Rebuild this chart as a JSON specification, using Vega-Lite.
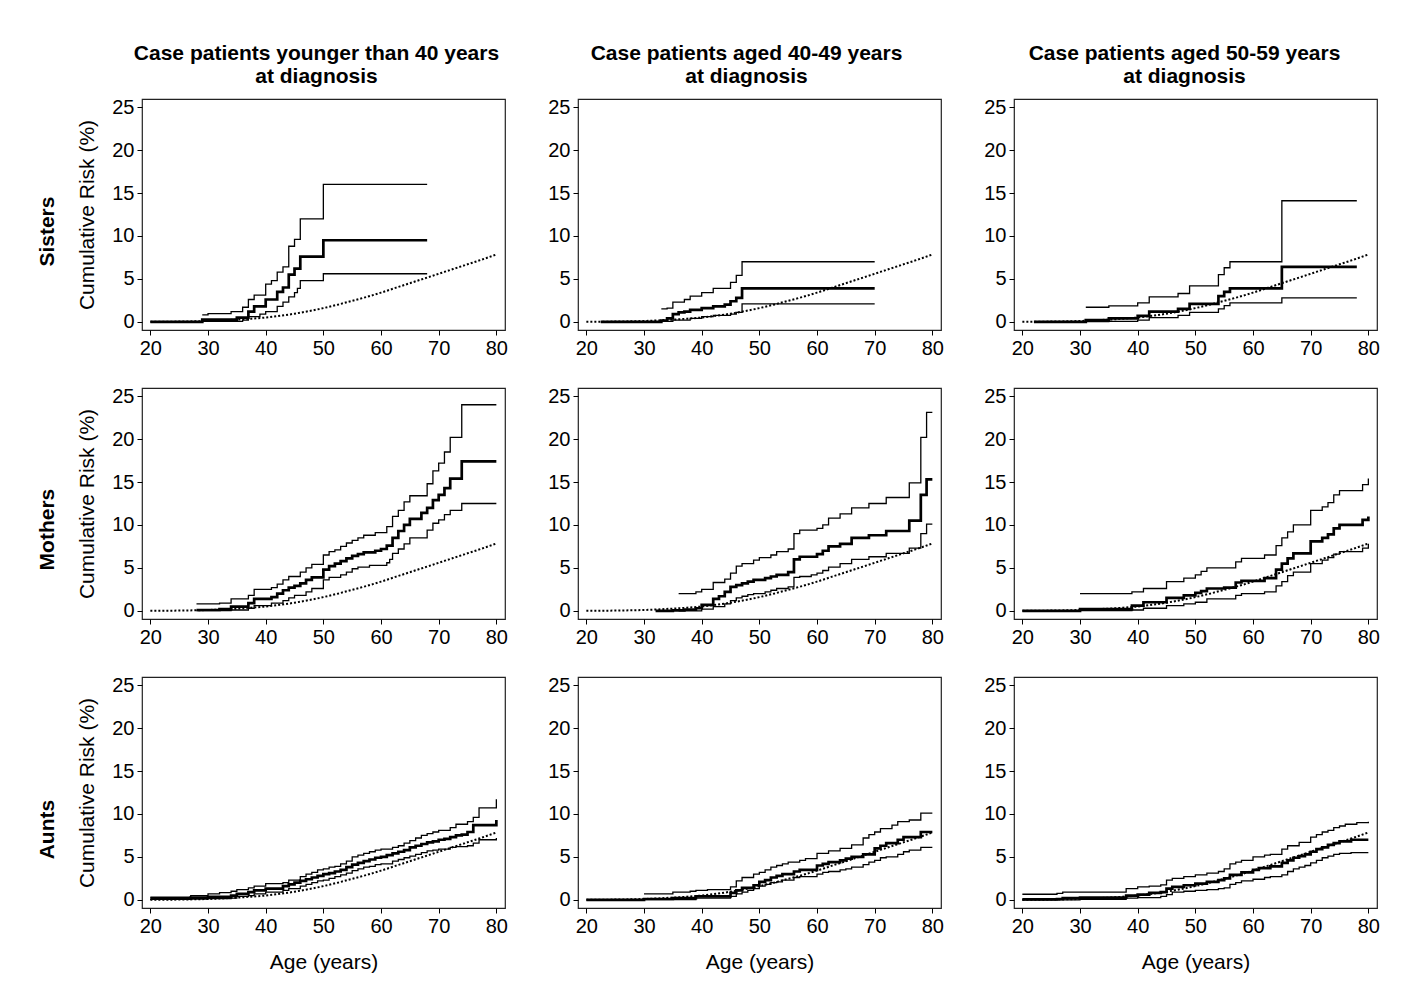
{
"$schema": "https://vega.github.io/schema/vega-lite/v6.json",
"padding": {"left": 37, "top": 42, "right": 5, "bottom": 5},
"background": "white",
"datasets": {
"pop": [{"x":20,"y":0},{"x":22.5,"y":0.01},{"x":25,"y":0.03},{"x":27.5,"y":0.06},{"x":30,"y":0.1},{"x":32.5,"y":0.17},{"x":35,"y":0.26},{"x":37.5,"y":0.37},{"x":40,"y":0.5},{"x":42.5,"y":0.7},{"x":45,"y":0.95},{"x":47.5,"y":1.25},{"x":50,"y":1.6},{"x":52.5,"y":2.0},{"x":55,"y":2.45},{"x":57.5,"y":2.9},{"x":60,"y":3.4},{"x":62.5,"y":3.95},{"x":65,"y":4.5},{"x":67.5,"y":5.05},{"x":70,"y":5.6},{"x":72.5,"y":6.15},{"x":75,"y":6.7},{"x":77.5,"y":7.25},{"x":80,"y":7.85}],
"S1": [
{"s":"est","x":20,"y":0},{"s":"est","x":29,"y":0.25},{"s":"est","x":35,"y":0.5},{"s":"est","x":37,"y":1.2},{"s":"est","x":38,"y":1.8},{"s":"est","x":40,"y":2.6},{"s":"est","x":42,"y":3.5},{"s":"est","x":43,"y":4.0},{"s":"est","x":44,"y":5.5},{"s":"est","x":45,"y":6.2},{"s":"est","x":46,"y":7.6},{"s":"est","x":50,"y":9.5},{"s":"est","x":68,"y":9.5},
{"s":"up","x":29,"y":0.8},{"s":"up","x":30,"y":0.95},{"s":"up","x":34,"y":1.2},{"s":"up","x":36,"y":1.7},{"s":"up","x":37,"y":2.6},{"s":"up","x":38,"y":3.1},{"s":"up","x":40,"y":4.4},{"s":"up","x":41,"y":4.8},{"s":"up","x":42,"y":5.8},{"s":"up","x":43,"y":6.4},{"s":"up","x":44,"y":8.8},{"s":"up","x":45,"y":9.6},{"s":"up","x":46,"y":12.0},{"s":"up","x":50,"y":16.0},{"s":"up","x":68,"y":16.0},
{"s":"lo","x":29,"y":0.05},{"s":"lo","x":36,"y":0.2},{"s":"lo","x":37,"y":0.6},{"s":"lo","x":39,"y":0.9},{"s":"lo","x":40,"y":1.2},{"s":"lo","x":42,"y":1.8},{"s":"lo","x":43,"y":2.3},{"s":"lo","x":44,"y":2.9},{"s":"lo","x":45,"y":3.4},{"s":"lo","x":45.5,"y":3.9},{"s":"lo","x":46,"y":4.8},{"s":"lo","x":50,"y":5.6},{"s":"lo","x":68,"y":5.6}
],
"S2": [
{"s":"est","x":22.5,"y":0},{"s":"est","x":33,"y":0.15},{"s":"est","x":34,"y":0.4},{"s":"est","x":35,"y":0.9},{"s":"est","x":36,"y":1.1},{"s":"est","x":37,"y":1.2},{"s":"est","x":38,"y":1.4},{"s":"est","x":40,"y":1.6},{"s":"est","x":42,"y":1.8},{"s":"est","x":44,"y":2.0},{"s":"est","x":45,"y":2.4},{"s":"est","x":46,"y":2.8},{"s":"est","x":47,"y":3.9},{"s":"est","x":70,"y":3.9},
{"s":"up","x":33,"y":1.5},{"s":"up","x":34,"y":1.6},{"s":"up","x":35,"y":2.3},{"s":"up","x":37,"y":2.6},{"s":"up","x":38,"y":3.0},{"s":"up","x":40,"y":3.4},{"s":"up","x":42,"y":3.9},{"s":"up","x":45,"y":4.6},{"s":"up","x":46,"y":5.4},{"s":"up","x":47,"y":7.0},{"s":"up","x":70,"y":7.0},
{"s":"lo","x":33,"y":0.05},{"s":"lo","x":35,"y":0.2},{"s":"lo","x":38,"y":0.4},{"s":"lo","x":40,"y":0.6},{"s":"lo","x":42,"y":0.75},{"s":"lo","x":45,"y":0.9},{"s":"lo","x":46,"y":1.1},{"s":"lo","x":47,"y":2.1},{"s":"lo","x":70,"y":2.1}
],
"S3": [
{"s":"est","x":22,"y":0},{"s":"est","x":31,"y":0.2},{"s":"est","x":35,"y":0.4},{"s":"est","x":40,"y":0.7},{"s":"est","x":42,"y":1.2},{"s":"est","x":47,"y":1.5},{"s":"est","x":49,"y":2.1},{"s":"est","x":54,"y":3.0},{"s":"est","x":55,"y":3.5},{"s":"est","x":56,"y":3.9},{"s":"est","x":65,"y":6.4},{"s":"est","x":78,"y":6.4},
{"s":"up","x":31,"y":1.7},{"s":"up","x":35,"y":1.85},{"s":"up","x":40,"y":2.2},{"s":"up","x":42,"y":2.9},{"s":"up","x":47,"y":3.3},{"s":"up","x":49,"y":4.2},{"s":"up","x":54,"y":5.5},{"s":"up","x":55,"y":6.3},{"s":"up","x":56,"y":7.0},{"s":"up","x":65,"y":14.1},{"s":"up","x":78,"y":14.1},
{"s":"lo","x":31,"y":0.02},{"s":"lo","x":35,"y":0.05},{"s":"lo","x":40,"y":0.2},{"s":"lo","x":42,"y":0.5},{"s":"lo","x":47,"y":0.75},{"s":"lo","x":49,"y":1.1},{"s":"lo","x":54,"y":1.5},{"s":"lo","x":55,"y":1.9},{"s":"lo","x":56,"y":2.2},{"s":"lo","x":65,"y":2.8},{"s":"lo","x":78,"y":2.8}
],
"M1": [
{"s":"est","x":28,"y":0.1},{"s":"est","x":32,"y":0.2},{"s":"est","x":34,"y":0.5},{"s":"est","x":37,"y":0.9},{"s":"est","x":38,"y":1.4},{"s":"est","x":41,"y":1.6},{"s":"est","x":42,"y":2.0},{"s":"est","x":43,"y":2.4},{"s":"est","x":44,"y":2.7},{"s":"est","x":45,"y":2.9},{"s":"est","x":46,"y":3.2},{"s":"est","x":47,"y":3.6},{"s":"est","x":48,"y":3.9},{"s":"est","x":50,"y":4.8},{"s":"est","x":51,"y":5.2},{"s":"est","x":52,"y":5.5},{"s":"est","x":53,"y":5.8},{"s":"est","x":54,"y":6.1},{"s":"est","x":55,"y":6.4},{"s":"est","x":56,"y":6.6},{"s":"est","x":57,"y":6.8},{"s":"est","x":59,"y":7.0},{"s":"est","x":60,"y":7.2},{"s":"est","x":61,"y":7.6},{"s":"est","x":62,"y":8.5},{"s":"est","x":63,"y":9.3},{"s":"est","x":64,"y":10.0},{"s":"est","x":65,"y":10.7},{"s":"est","x":67,"y":11.4},{"s":"est","x":68,"y":12.0},{"s":"est","x":69,"y":12.9},{"s":"est","x":70,"y":13.5},{"s":"est","x":71,"y":14.3},{"s":"est","x":72,"y":15.4},{"s":"est","x":74,"y":17.4},{"s":"est","x":80,"y":17.4},
{"s":"up","x":28,"y":0.8},{"s":"up","x":32,"y":0.9},{"s":"up","x":34,"y":1.4},{"s":"up","x":37,"y":1.8},{"s":"up","x":38,"y":2.5},{"s":"up","x":41,"y":2.7},{"s":"up","x":42,"y":3.1},{"s":"up","x":43,"y":3.6},{"s":"up","x":44,"y":4.0},{"s":"up","x":46,"y":4.5},{"s":"up","x":47,"y":5.0},{"s":"up","x":48,"y":5.4},{"s":"up","x":50,"y":6.5},{"s":"up","x":51,"y":6.9},{"s":"up","x":52,"y":7.1},{"s":"up","x":53,"y":7.5},{"s":"up","x":54,"y":7.9},{"s":"up","x":55,"y":8.2},{"s":"up","x":56,"y":8.5},{"s":"up","x":57,"y":8.8},{"s":"up","x":59,"y":9.1},{"s":"up","x":61,"y":9.8},{"s":"up","x":62,"y":11.0},{"s":"up","x":63,"y":11.7},{"s":"up","x":64,"y":12.7},{"s":"up","x":65,"y":13.4},{"s":"up","x":68,"y":14.8},{"s":"up","x":69,"y":16.3},{"s":"up","x":70,"y":17.2},{"s":"up","x":71,"y":18.5},{"s":"up","x":72,"y":20.2},{"s":"up","x":74,"y":24.0},{"s":"up","x":80,"y":24.0},
{"s":"lo","x":28,"y":0.02},{"s":"lo","x":34,"y":0.1},{"s":"lo","x":37,"y":0.3},{"s":"lo","x":38,"y":0.6},{"s":"lo","x":41,"y":0.9},{"s":"lo","x":43,"y":1.2},{"s":"lo","x":44,"y":1.5},{"s":"lo","x":45,"y":1.8},{"s":"lo","x":47,"y":2.2},{"s":"lo","x":48,"y":2.6},{"s":"lo","x":50,"y":3.6},{"s":"lo","x":51,"y":3.9},{"s":"lo","x":53,"y":4.2},{"s":"lo","x":54,"y":4.5},{"s":"lo","x":55,"y":4.9},{"s":"lo","x":56,"y":5.1},{"s":"lo","x":58,"y":5.3},{"s":"lo","x":61,"y":5.6},{"s":"lo","x":61.5,"y":6.0},{"s":"lo","x":62,"y":6.7},{"s":"lo","x":63,"y":7.2},{"s":"lo","x":64,"y":7.8},{"s":"lo","x":65,"y":8.5},{"s":"lo","x":68,"y":9.4},{"s":"lo","x":69,"y":10.2},{"s":"lo","x":70,"y":10.6},{"s":"lo","x":71,"y":11.2},{"s":"lo","x":72,"y":11.7},{"s":"lo","x":74,"y":12.5},{"s":"lo","x":80,"y":12.5}
],
"M2": [
{"s":"est","x":32,"y":0},{"s":"est","x":35,"y":0.05},{"s":"est","x":37,"y":0.15},{"s":"est","x":39,"y":0.3},{"s":"est","x":40,"y":0.7},{"s":"est","x":42,"y":1.4},{"s":"est","x":43,"y":1.7},{"s":"est","x":44,"y":2.2},{"s":"est","x":45,"y":2.8},{"s":"est","x":46,"y":3.0},{"s":"est","x":47,"y":3.2},{"s":"est","x":48,"y":3.4},{"s":"est","x":49,"y":3.6},{"s":"est","x":51,"y":3.8},{"s":"est","x":52,"y":4.0},{"s":"est","x":53,"y":4.2},{"s":"est","x":55,"y":4.5},{"s":"est","x":56,"y":6.0},{"s":"est","x":57,"y":6.3},{"s":"est","x":60,"y":6.6},{"s":"est","x":61,"y":7.0},{"s":"est","x":62,"y":7.5},{"s":"est","x":64,"y":7.8},{"s":"est","x":66,"y":8.5},{"s":"est","x":69,"y":8.8},{"s":"est","x":72,"y":9.3},{"s":"est","x":76,"y":10.5},{"s":"est","x":78,"y":13.5},{"s":"est","x":79,"y":15.3},{"s":"est","x":80,"y":15.3},
{"s":"up","x":36,"y":2.0},{"s":"up","x":39,"y":2.2},{"s":"up","x":40,"y":2.5},{"s":"up","x":42,"y":3.3},{"s":"up","x":44,"y":3.7},{"s":"up","x":45,"y":4.4},{"s":"up","x":46,"y":5.2},{"s":"up","x":47,"y":5.5},{"s":"up","x":49,"y":5.9},{"s":"up","x":50,"y":6.2},{"s":"up","x":52,"y":6.5},{"s":"up","x":53,"y":6.9},{"s":"up","x":55,"y":7.2},{"s":"up","x":56,"y":9.0},{"s":"up","x":57,"y":9.4},{"s":"up","x":60,"y":9.6},{"s":"up","x":61,"y":10.0},{"s":"up","x":62,"y":10.8},{"s":"up","x":64,"y":11.3},{"s":"up","x":66,"y":12.0},{"s":"up","x":69,"y":12.5},{"s":"up","x":72,"y":13.2},{"s":"up","x":76,"y":14.9},{"s":"up","x":78,"y":20.2},{"s":"up","x":79,"y":23.1},{"s":"up","x":80,"y":23.1},
{"s":"lo","x":36,"y":0},{"s":"lo","x":40,"y":0.2},{"s":"lo","x":42,"y":0.5},{"s":"lo","x":44,"y":0.8},{"s":"lo","x":45,"y":1.2},{"s":"lo","x":46,"y":1.5},{"s":"lo","x":47,"y":1.7},{"s":"lo","x":48,"y":1.9},{"s":"lo","x":49,"y":2.0},{"s":"lo","x":51,"y":2.2},{"s":"lo","x":52,"y":2.4},{"s":"lo","x":53,"y":2.6},{"s":"lo","x":55,"y":2.8},{"s":"lo","x":56,"y":3.9},{"s":"lo","x":57,"y":4.0},{"s":"lo","x":59,"y":4.2},{"s":"lo","x":60,"y":4.4},{"s":"lo","x":61,"y":4.7},{"s":"lo","x":62,"y":5.1},{"s":"lo","x":64,"y":5.5},{"s":"lo","x":66,"y":6.0},{"s":"lo","x":69,"y":6.3},{"s":"lo","x":72,"y":6.7},{"s":"lo","x":76,"y":7.3},{"s":"lo","x":78,"y":9.0},{"s":"lo","x":79,"y":10.1},{"s":"lo","x":80,"y":10.1}
],
"M3": [
{"s":"est","x":20,"y":0},{"s":"est","x":30,"y":0.2},{"s":"est","x":39,"y":0.6},{"s":"est","x":41,"y":1.0},{"s":"est","x":45,"y":1.5},{"s":"est","x":48,"y":1.8},{"s":"est","x":50,"y":2.1},{"s":"est","x":51,"y":2.3},{"s":"est","x":52,"y":2.6},{"s":"est","x":55,"y":2.7},{"s":"est","x":57,"y":3.3},{"s":"est","x":58,"y":3.5},{"s":"est","x":62,"y":3.8},{"s":"est","x":64,"y":4.8},{"s":"est","x":65,"y":5.5},{"s":"est","x":66,"y":6.1},{"s":"est","x":67,"y":6.7},{"s":"est","x":70,"y":8.1},{"s":"est","x":72,"y":8.5},{"s":"est","x":73,"y":8.9},{"s":"est","x":74,"y":9.6},{"s":"est","x":75,"y":10.0},{"s":"est","x":79,"y":10.6},{"s":"est","x":80,"y":11.0},
{"s":"up","x":30,"y":2.0},{"s":"up","x":39,"y":2.2},{"s":"up","x":41,"y":2.6},{"s":"up","x":45,"y":3.4},{"s":"up","x":48,"y":3.8},{"s":"up","x":50,"y":4.2},{"s":"up","x":51,"y":4.6},{"s":"up","x":52,"y":5.0},{"s":"up","x":57,"y":5.7},{"s":"up","x":58,"y":6.1},{"s":"up","x":62,"y":6.5},{"s":"up","x":64,"y":7.6},{"s":"up","x":65,"y":8.5},{"s":"up","x":66,"y":9.2},{"s":"up","x":67,"y":10.0},{"s":"up","x":70,"y":11.7},{"s":"up","x":72,"y":12.1},{"s":"up","x":73,"y":12.6},{"s":"up","x":74,"y":13.5},{"s":"up","x":75,"y":14.0},{"s":"up","x":79,"y":14.7},{"s":"up","x":80,"y":15.4},
{"s":"lo","x":30,"y":0.02},{"s":"lo","x":39,"y":0.1},{"s":"lo","x":41,"y":0.3},{"s":"lo","x":45,"y":0.6},{"s":"lo","x":48,"y":0.8},{"s":"lo","x":50,"y":1.0},{"s":"lo","x":52,"y":1.4},{"s":"lo","x":57,"y":1.8},{"s":"lo","x":58,"y":2.0},{"s":"lo","x":62,"y":2.2},{"s":"lo","x":64,"y":2.9},{"s":"lo","x":65,"y":3.4},{"s":"lo","x":66,"y":4.1},{"s":"lo","x":67,"y":4.5},{"s":"lo","x":70,"y":5.5},{"s":"lo","x":72,"y":5.9},{"s":"lo","x":73,"y":6.2},{"s":"lo","x":74,"y":6.6},{"s":"lo","x":75,"y":6.9},{"s":"lo","x":79,"y":7.3},{"s":"lo","x":80,"y":7.8}
],
"A1": [
{"s":"est","x":20,"y":0.15},{"s":"est","x":27,"y":0.25},{"s":"est","x":30,"y":0.35},{"s":"est","x":34,"y":0.5},{"s":"est","x":35,"y":0.7},{"s":"est","x":37,"y":0.9},{"s":"est","x":38,"y":1.1},{"s":"est","x":40,"y":1.3},{"s":"est","x":43,"y":1.6},{"s":"est","x":44,"y":1.8},{"s":"est","x":45,"y":2.0},{"s":"est","x":46,"y":2.2},{"s":"est","x":47,"y":2.4},{"s":"est","x":48,"y":2.6},{"s":"est","x":49,"y":2.8},{"s":"est","x":50,"y":3.0},{"s":"est","x":51,"y":3.1},{"s":"est","x":52,"y":3.3},{"s":"est","x":53,"y":3.5},{"s":"est","x":54,"y":3.8},{"s":"est","x":55,"y":4.1},{"s":"est","x":56,"y":4.3},{"s":"est","x":57,"y":4.5},{"s":"est","x":58,"y":4.7},{"s":"est","x":59,"y":4.9},{"s":"est","x":60,"y":5.0},{"s":"est","x":61,"y":5.2},{"s":"est","x":62,"y":5.4},{"s":"est","x":63,"y":5.6},{"s":"est","x":64,"y":5.8},{"s":"est","x":65,"y":6.1},{"s":"est","x":66,"y":6.3},{"s":"est","x":67,"y":6.5},{"s":"est","x":68,"y":6.7},{"s":"est","x":69,"y":6.8},{"s":"est","x":70,"y":7.0},{"s":"est","x":71,"y":7.1},{"s":"est","x":72,"y":7.3},{"s":"est","x":73,"y":7.5},{"s":"est","x":74,"y":7.6},{"s":"est","x":75,"y":7.9},{"s":"est","x":76,"y":8.7},{"s":"est","x":80,"y":9.3},
{"s":"up","x":20,"y":0.3},{"s":"up","x":27,"y":0.5},{"s":"up","x":30,"y":0.7},{"s":"up","x":32,"y":0.85},{"s":"up","x":34,"y":1.0},{"s":"up","x":35,"y":1.2},{"s":"up","x":37,"y":1.4},{"s":"up","x":38,"y":1.6},{"s":"up","x":40,"y":1.9},{"s":"up","x":43,"y":2.0},{"s":"up","x":44,"y":2.3},{"s":"up","x":46,"y":2.7},{"s":"up","x":47,"y":3.0},{"s":"up","x":48,"y":3.2},{"s":"up","x":49,"y":3.5},{"s":"up","x":50,"y":3.6},{"s":"up","x":51,"y":3.8},{"s":"up","x":52,"y":3.9},{"s":"up","x":53,"y":4.2},{"s":"up","x":54,"y":4.5},{"s":"up","x":55,"y":5.0},{"s":"up","x":56,"y":5.2},{"s":"up","x":57,"y":5.4},{"s":"up","x":58,"y":5.6},{"s":"up","x":59,"y":5.8},{"s":"up","x":60,"y":5.9},{"s":"up","x":62,"y":6.1},{"s":"up","x":63,"y":6.3},{"s":"up","x":64,"y":6.6},{"s":"up","x":65,"y":6.9},{"s":"up","x":66,"y":7.2},{"s":"up","x":67,"y":7.5},{"s":"up","x":68,"y":7.7},{"s":"up","x":69,"y":7.9},{"s":"up","x":70,"y":8.1},{"s":"up","x":72,"y":8.4},{"s":"up","x":73,"y":8.8},{"s":"up","x":75,"y":9.1},{"s":"up","x":76,"y":9.6},{"s":"up","x":77,"y":10.7},{"s":"up","x":80,"y":11.7},
{"s":"lo","x":20,"y":0.05},{"s":"lo","x":27,"y":0.1},{"s":"lo","x":30,"y":0.15},{"s":"lo","x":34,"y":0.2},{"s":"lo","x":35,"y":0.4},{"s":"lo","x":37,"y":0.5},{"s":"lo","x":38,"y":0.7},{"s":"lo","x":40,"y":0.9},{"s":"lo","x":43,"y":1.1},{"s":"lo","x":44,"y":1.3},{"s":"lo","x":46,"y":1.6},{"s":"lo","x":47,"y":1.8},{"s":"lo","x":48,"y":2.0},{"s":"lo","x":49,"y":2.2},{"s":"lo","x":50,"y":2.3},{"s":"lo","x":51,"y":2.5},{"s":"lo","x":52,"y":2.7},{"s":"lo","x":53,"y":2.9},{"s":"lo","x":54,"y":3.1},{"s":"lo","x":55,"y":3.4},{"s":"lo","x":56,"y":3.6},{"s":"lo","x":57,"y":3.8},{"s":"lo","x":58,"y":3.9},{"s":"lo","x":59,"y":4.1},{"s":"lo","x":60,"y":4.2},{"s":"lo","x":62,"y":4.5},{"s":"lo","x":63,"y":4.7},{"s":"lo","x":64,"y":4.9},{"s":"lo","x":65,"y":5.1},{"s":"lo","x":66,"y":5.3},{"s":"lo","x":67,"y":5.5},{"s":"lo","x":68,"y":5.7},{"s":"lo","x":69,"y":5.8},{"s":"lo","x":70,"y":5.9},{"s":"lo","x":72,"y":6.1},{"s":"lo","x":73,"y":6.2},{"s":"lo","x":75,"y":6.3},{"s":"lo","x":76,"y":6.6},{"s":"lo","x":77,"y":7.0},{"s":"lo","x":80,"y":7.2}
],
"A2": [
{"s":"est","x":20,"y":0},{"s":"est","x":30,"y":0.1},{"s":"est","x":35,"y":0.2},{"s":"est","x":39,"y":0.4},{"s":"est","x":45,"y":0.8},{"s":"est","x":46,"y":1.1},{"s":"est","x":47,"y":1.4},{"s":"est","x":49,"y":1.7},{"s":"est","x":50,"y":2.1},{"s":"est","x":51,"y":2.3},{"s":"est","x":52,"y":2.6},{"s":"est","x":53,"y":2.8},{"s":"est","x":54,"y":3.0},{"s":"est","x":56,"y":3.3},{"s":"est","x":57,"y":3.5},{"s":"est","x":60,"y":4.0},{"s":"est","x":61,"y":4.2},{"s":"est","x":62,"y":4.4},{"s":"est","x":64,"y":4.6},{"s":"est","x":65,"y":4.8},{"s":"est","x":66,"y":5.0},{"s":"est","x":68,"y":5.3},{"s":"est","x":70,"y":6.0},{"s":"est","x":71,"y":6.3},{"s":"est","x":72,"y":6.6},{"s":"est","x":74,"y":7.0},{"s":"est","x":75,"y":7.3},{"s":"est","x":78,"y":7.9},{"s":"est","x":80,"y":7.9},
{"s":"up","x":30,"y":0.7},{"s":"up","x":35,"y":0.9},{"s":"up","x":38,"y":1.0},{"s":"up","x":39,"y":1.1},{"s":"up","x":41,"y":1.2},{"s":"up","x":45,"y":1.5},{"s":"up","x":46,"y":2.2},{"s":"up","x":47,"y":2.6},{"s":"up","x":49,"y":3.0},{"s":"up","x":50,"y":3.2},{"s":"up","x":51,"y":3.5},{"s":"up","x":52,"y":3.8},{"s":"up","x":53,"y":4.0},{"s":"up","x":54,"y":4.2},{"s":"up","x":55,"y":4.4},{"s":"up","x":57,"y":4.6},{"s":"up","x":58,"y":4.8},{"s":"up","x":60,"y":5.4},{"s":"up","x":62,"y":5.7},{"s":"up","x":64,"y":6.0},{"s":"up","x":66,"y":6.4},{"s":"up","x":68,"y":7.2},{"s":"up","x":69,"y":7.6},{"s":"up","x":70,"y":7.9},{"s":"up","x":71,"y":8.3},{"s":"up","x":73,"y":8.7},{"s":"up","x":74,"y":9.1},{"s":"up","x":76,"y":9.3},{"s":"up","x":78,"y":10.1},{"s":"up","x":80,"y":10.1},
{"s":"lo","x":30,"y":0.02},{"s":"lo","x":39,"y":0.2},{"s":"lo","x":45,"y":0.4},{"s":"lo","x":46,"y":0.7},{"s":"lo","x":47,"y":0.9},{"s":"lo","x":48,"y":1.1},{"s":"lo","x":49,"y":1.3},{"s":"lo","x":50,"y":1.6},{"s":"lo","x":51,"y":1.8},{"s":"lo","x":52,"y":2.0},{"s":"lo","x":53,"y":2.1},{"s":"lo","x":54,"y":2.3},{"s":"lo","x":56,"y":2.6},{"s":"lo","x":57,"y":2.7},{"s":"lo","x":60,"y":3.0},{"s":"lo","x":61,"y":3.2},{"s":"lo","x":62,"y":3.3},{"s":"lo","x":64,"y":3.5},{"s":"lo","x":65,"y":3.6},{"s":"lo","x":66,"y":3.8},{"s":"lo","x":68,"y":4.1},{"s":"lo","x":69,"y":4.4},{"s":"lo","x":70,"y":4.6},{"s":"lo","x":71,"y":4.9},{"s":"lo","x":72,"y":5.0},{"s":"lo","x":74,"y":5.3},{"s":"lo","x":75,"y":5.6},{"s":"lo","x":76,"y":5.8},{"s":"lo","x":78,"y":6.1},{"s":"lo","x":80,"y":6.1}
],
"A3": [
{"s":"est","x":20,"y":0.05},{"s":"est","x":26,"y":0.1},{"s":"est","x":27,"y":0.2},{"s":"est","x":30,"y":0.25},{"s":"est","x":38,"y":0.5},{"s":"est","x":40,"y":0.6},{"s":"est","x":42,"y":0.8},{"s":"est","x":44,"y":0.9},{"s":"est","x":45,"y":1.3},{"s":"est","x":46,"y":1.5},{"s":"est","x":48,"y":1.7},{"s":"est","x":50,"y":1.9},{"s":"est","x":52,"y":2.1},{"s":"est","x":54,"y":2.3},{"s":"est","x":55,"y":2.5},{"s":"est","x":56,"y":2.9},{"s":"est","x":58,"y":3.2},{"s":"est","x":60,"y":3.5},{"s":"est","x":61,"y":3.7},{"s":"est","x":63,"y":3.9},{"s":"est","x":65,"y":4.3},{"s":"est","x":66,"y":4.6},{"s":"est","x":67,"y":4.9},{"s":"est","x":68,"y":5.1},{"s":"est","x":69,"y":5.3},{"s":"est","x":70,"y":5.6},{"s":"est","x":71,"y":5.9},{"s":"est","x":72,"y":6.1},{"s":"est","x":73,"y":6.4},{"s":"est","x":74,"y":6.6},{"s":"est","x":75,"y":6.8},{"s":"est","x":77,"y":7.0},{"s":"est","x":80,"y":7.0},
{"s":"up","x":20,"y":0.65},{"s":"up","x":26,"y":0.75},{"s":"up","x":27,"y":0.9},{"s":"up","x":38,"y":1.3},{"s":"up","x":40,"y":1.5},{"s":"up","x":42,"y":1.6},{"s":"up","x":44,"y":1.75},{"s":"up","x":45,"y":2.3},{"s":"up","x":46,"y":2.5},{"s":"up","x":48,"y":2.7},{"s":"up","x":50,"y":2.9},{"s":"up","x":52,"y":3.1},{"s":"up","x":54,"y":3.3},{"s":"up","x":55,"y":3.6},{"s":"up","x":56,"y":4.2},{"s":"up","x":57,"y":4.4},{"s":"up","x":58,"y":4.6},{"s":"up","x":60,"y":5.0},{"s":"up","x":62,"y":5.2},{"s":"up","x":63,"y":5.3},{"s":"up","x":65,"y":5.9},{"s":"up","x":66,"y":6.3},{"s":"up","x":68,"y":6.7},{"s":"up","x":70,"y":7.3},{"s":"up","x":71,"y":7.6},{"s":"up","x":72,"y":7.9},{"s":"up","x":73,"y":8.1},{"s":"up","x":74,"y":8.4},{"s":"up","x":75,"y":8.6},{"s":"up","x":76,"y":8.8},{"s":"up","x":78,"y":9.0},{"s":"up","x":80,"y":9.1},
{"s":"lo","x":20,"y":0},{"s":"lo","x":30,"y":0.05},{"s":"lo","x":38,"y":0.2},{"s":"lo","x":40,"y":0.25},{"s":"lo","x":44,"y":0.4},{"s":"lo","x":45,"y":0.6},{"s":"lo","x":46,"y":0.9},{"s":"lo","x":48,"y":1.0},{"s":"lo","x":50,"y":1.1},{"s":"lo","x":52,"y":1.2},{"s":"lo","x":54,"y":1.3},{"s":"lo","x":55,"y":1.4},{"s":"lo","x":56,"y":1.8},{"s":"lo","x":57,"y":2.0},{"s":"lo","x":58,"y":2.2},{"s":"lo","x":60,"y":2.4},{"s":"lo","x":62,"y":2.6},{"s":"lo","x":63,"y":2.7},{"s":"lo","x":65,"y":2.9},{"s":"lo","x":66,"y":3.3},{"s":"lo","x":67,"y":3.6},{"s":"lo","x":68,"y":3.8},{"s":"lo","x":69,"y":4.0},{"s":"lo","x":70,"y":4.3},{"s":"lo","x":71,"y":4.6},{"s":"lo","x":72,"y":4.9},{"s":"lo","x":73,"y":5.1},{"s":"lo","x":74,"y":5.3},{"s":"lo","x":75,"y":5.4},{"s":"lo","x":77,"y":5.5},{"s":"lo","x":80,"y":5.5}
]
},
"spacing": 26,
"vconcat": [
{
"title": {"text": "Sisters", "orient": "left", "anchor": "middle", "offset": 18, "dx": -31},
"bounds": "flush",
"spacing": 73,
"hconcat": [
{"width": 363, "height": 231,
 "title": {"text": ["Case patients younger than 40 years", "at diagnosis"], "anchor": "middle", "offset": 10, "lineHeight": 23, "dx": -7},
 "encoding": {"x": {"field": "x", "type": "quantitative", "scale": {"domain": [18.55, 81.5], "nice": false, "zero": false}, "axis": {"values": [20,30,40,50,60,70,80], "title": null}},
  "y": {"field": "y", "type": "quantitative", "scale": {"domain": [-0.95, 25.95], "nice": false, "zero": false}, "axis": {"values": [0,5,10,15,20,25], "title": "Cumulative Risk (%)"}}},
 "layer": [
  {"data": {"name": "pop"}, "mark": {"type": "line", "interpolate": "monotone", "color": "black", "strokeWidth": 2, "strokeDash": [2, 2]}, "encoding": {}},
  {"data": {"name": "S1"}, "transform": [{"filter": "datum.s !== 'est'"}], "mark": {"type": "line", "interpolate": "step-after", "color": "black", "strokeWidth": 1.3}, "encoding": {"detail": {"field": "s", "type": "nominal"}}},
  {"data": {"name": "S1"}, "transform": [{"filter": "datum.s === 'est'"}], "mark": {"type": "line", "interpolate": "step-after", "color": "black", "strokeWidth": 2.7}, "encoding": {}}
 ]},
{"width": 363, "height": 231,
 "title": {"text": ["Case patients aged 40-49 years", "at diagnosis"], "anchor": "middle", "offset": 10, "lineHeight": 23, "dx": -13},
 "encoding": {"x": {"field": "x", "type": "quantitative", "scale": {"domain": [18.55, 81.5], "nice": false, "zero": false}, "axis": {"values": [20,30,40,50,60,70,80], "title": null}},
  "y": {"field": "y", "type": "quantitative", "scale": {"domain": [-0.95, 25.95], "nice": false, "zero": false}, "axis": {"values": [0,5,10,15,20,25], "title": null}}},
 "layer": [
  {"data": {"name": "pop"}, "mark": {"type": "line", "interpolate": "monotone", "color": "black", "strokeWidth": 2, "strokeDash": [2, 2]}, "encoding": {}},
  {"data": {"name": "S2"}, "transform": [{"filter": "datum.s !== 'est'"}], "mark": {"type": "line", "interpolate": "step-after", "color": "black", "strokeWidth": 1.3}, "encoding": {"detail": {"field": "s", "type": "nominal"}}},
  {"data": {"name": "S2"}, "transform": [{"filter": "datum.s === 'est'"}], "mark": {"type": "line", "interpolate": "step-after", "color": "black", "strokeWidth": 2.7}, "encoding": {}}
 ]},
{"width": 363, "height": 231,
 "title": {"text": ["Case patients aged 50-59 years", "at diagnosis"], "anchor": "middle", "offset": 10, "lineHeight": 23, "dx": -11},
 "encoding": {"x": {"field": "x", "type": "quantitative", "scale": {"domain": [18.55, 81.5], "nice": false, "zero": false}, "axis": {"values": [20,30,40,50,60,70,80], "title": null}},
  "y": {"field": "y", "type": "quantitative", "scale": {"domain": [-0.95, 25.95], "nice": false, "zero": false}, "axis": {"values": [0,5,10,15,20,25], "title": null}}},
 "layer": [
  {"data": {"name": "pop"}, "mark": {"type": "line", "interpolate": "monotone", "color": "black", "strokeWidth": 2, "strokeDash": [2, 2]}, "encoding": {}},
  {"data": {"name": "S3"}, "transform": [{"filter": "datum.s !== 'est'"}], "mark": {"type": "line", "interpolate": "step-after", "color": "black", "strokeWidth": 1.3}, "encoding": {"detail": {"field": "s", "type": "nominal"}}},
  {"data": {"name": "S3"}, "transform": [{"filter": "datum.s === 'est'"}], "mark": {"type": "line", "interpolate": "step-after", "color": "black", "strokeWidth": 2.7}, "encoding": {}}
 ]}
]
},
{
"title": {"text": "Mothers", "orient": "left", "anchor": "middle", "offset": 18, "dx": -13},
"bounds": "flush",
"spacing": 73,
"hconcat": [
{"width": 363, "height": 231,
 "encoding": {"x": {"field": "x", "type": "quantitative", "scale": {"domain": [18.55, 81.5], "nice": false, "zero": false}, "axis": {"values": [20,30,40,50,60,70,80], "title": null}},
  "y": {"field": "y", "type": "quantitative", "scale": {"domain": [-0.95, 25.95], "nice": false, "zero": false}, "axis": {"values": [0,5,10,15,20,25], "title": "Cumulative Risk (%)"}}},
 "layer": [
  {"data": {"name": "pop"}, "mark": {"type": "line", "interpolate": "monotone", "color": "black", "strokeWidth": 2, "strokeDash": [2, 2]}, "encoding": {}},
  {"data": {"name": "M1"}, "transform": [{"filter": "datum.s !== 'est'"}], "mark": {"type": "line", "interpolate": "step-after", "color": "black", "strokeWidth": 1.3}, "encoding": {"detail": {"field": "s", "type": "nominal"}}},
  {"data": {"name": "M1"}, "transform": [{"filter": "datum.s === 'est'"}], "mark": {"type": "line", "interpolate": "step-after", "color": "black", "strokeWidth": 2.7}, "encoding": {}}
 ]},
{"width": 363, "height": 231,
 "encoding": {"x": {"field": "x", "type": "quantitative", "scale": {"domain": [18.55, 81.5], "nice": false, "zero": false}, "axis": {"values": [20,30,40,50,60,70,80], "title": null}},
  "y": {"field": "y", "type": "quantitative", "scale": {"domain": [-0.95, 25.95], "nice": false, "zero": false}, "axis": {"values": [0,5,10,15,20,25], "title": null}}},
 "layer": [
  {"data": {"name": "pop"}, "mark": {"type": "line", "interpolate": "monotone", "color": "black", "strokeWidth": 2, "strokeDash": [2, 2]}, "encoding": {}},
  {"data": {"name": "M2"}, "transform": [{"filter": "datum.s !== 'est'"}], "mark": {"type": "line", "interpolate": "step-after", "color": "black", "strokeWidth": 1.3}, "encoding": {"detail": {"field": "s", "type": "nominal"}}},
  {"data": {"name": "M2"}, "transform": [{"filter": "datum.s === 'est'"}], "mark": {"type": "line", "interpolate": "step-after", "color": "black", "strokeWidth": 2.7}, "encoding": {}}
 ]},
{"width": 363, "height": 231,
 "encoding": {"x": {"field": "x", "type": "quantitative", "scale": {"domain": [18.55, 81.5], "nice": false, "zero": false}, "axis": {"values": [20,30,40,50,60,70,80], "title": null}},
  "y": {"field": "y", "type": "quantitative", "scale": {"domain": [-0.95, 25.95], "nice": false, "zero": false}, "axis": {"values": [0,5,10,15,20,25], "title": null}}},
 "layer": [
  {"data": {"name": "pop"}, "mark": {"type": "line", "interpolate": "monotone", "color": "black", "strokeWidth": 2, "strokeDash": [2, 2]}, "encoding": {}},
  {"data": {"name": "M3"}, "transform": [{"filter": "datum.s !== 'est'"}], "mark": {"type": "line", "interpolate": "step-after", "color": "black", "strokeWidth": 1.3}, "encoding": {"detail": {"field": "s", "type": "nominal"}}},
  {"data": {"name": "M3"}, "transform": [{"filter": "datum.s === 'est'"}], "mark": {"type": "line", "interpolate": "step-after", "color": "black", "strokeWidth": 2.7}, "encoding": {}}
 ]}
]
},
{
"title": {"text": "Aunts", "orient": "left", "anchor": "middle", "offset": 18, "dx": -6},
"bounds": "flush",
"spacing": 73,
"hconcat": [
{"width": 363, "height": 231,
 "encoding": {"x": {"field": "x", "type": "quantitative", "scale": {"domain": [18.55, 81.5], "nice": false, "zero": false}, "axis": {"values": [20,30,40,50,60,70,80], "title": "Age (years)"}},
  "y": {"field": "y", "type": "quantitative", "scale": {"domain": [-0.95, 25.95], "nice": false, "zero": false}, "axis": {"values": [0,5,10,15,20,25], "title": "Cumulative Risk (%)"}}},
 "layer": [
  {"data": {"name": "pop"}, "mark": {"type": "line", "interpolate": "monotone", "color": "black", "strokeWidth": 2, "strokeDash": [2, 2]}, "encoding": {}},
  {"data": {"name": "A1"}, "transform": [{"filter": "datum.s !== 'est'"}], "mark": {"type": "line", "interpolate": "step-after", "color": "black", "strokeWidth": 1.3}, "encoding": {"detail": {"field": "s", "type": "nominal"}}},
  {"data": {"name": "A1"}, "transform": [{"filter": "datum.s === 'est'"}], "mark": {"type": "line", "interpolate": "step-after", "color": "black", "strokeWidth": 2.7}, "encoding": {}}
 ]},
{"width": 363, "height": 231,
 "encoding": {"x": {"field": "x", "type": "quantitative", "scale": {"domain": [18.55, 81.5], "nice": false, "zero": false}, "axis": {"values": [20,30,40,50,60,70,80], "title": "Age (years)"}},
  "y": {"field": "y", "type": "quantitative", "scale": {"domain": [-0.95, 25.95], "nice": false, "zero": false}, "axis": {"values": [0,5,10,15,20,25], "title": null}}},
 "layer": [
  {"data": {"name": "pop"}, "mark": {"type": "line", "interpolate": "monotone", "color": "black", "strokeWidth": 2, "strokeDash": [2, 2]}, "encoding": {}},
  {"data": {"name": "A2"}, "transform": [{"filter": "datum.s !== 'est'"}], "mark": {"type": "line", "interpolate": "step-after", "color": "black", "strokeWidth": 1.3}, "encoding": {"detail": {"field": "s", "type": "nominal"}}},
  {"data": {"name": "A2"}, "transform": [{"filter": "datum.s === 'est'"}], "mark": {"type": "line", "interpolate": "step-after", "color": "black", "strokeWidth": 2.7}, "encoding": {}}
 ]},
{"width": 363, "height": 231,
 "encoding": {"x": {"field": "x", "type": "quantitative", "scale": {"domain": [18.55, 81.5], "nice": false, "zero": false}, "axis": {"values": [20,30,40,50,60,70,80], "title": "Age (years)"}},
  "y": {"field": "y", "type": "quantitative", "scale": {"domain": [-0.95, 25.95], "nice": false, "zero": false}, "axis": {"values": [0,5,10,15,20,25], "title": null}}},
 "layer": [
  {"data": {"name": "pop"}, "mark": {"type": "line", "interpolate": "monotone", "color": "black", "strokeWidth": 2, "strokeDash": [2, 2]}, "encoding": {}},
  {"data": {"name": "A3"}, "transform": [{"filter": "datum.s !== 'est'"}], "mark": {"type": "line", "interpolate": "step-after", "color": "black", "strokeWidth": 1.3}, "encoding": {"detail": {"field": "s", "type": "nominal"}}},
  {"data": {"name": "A3"}, "transform": [{"filter": "datum.s === 'est'"}], "mark": {"type": "line", "interpolate": "step-after", "color": "black", "strokeWidth": 2.7}, "encoding": {}}
 ]}
]
}
],
"config": {
 "font": "Liberation Sans",
 "view": {"stroke": "#222", "strokeWidth": 1.2},
 "axis": {"grid": false, "domain": false, "ticks": true, "tickColor": "#000", "tickSize": 5, "labelFontSize": 20, "labelColor": "#000", "labelFont": "Liberation Sans", "labelFlush": false, "titleFont": "Liberation Sans", "titleFontSize": 21, "titleFontWeight": "normal", "titleColor": "#000", "labelPadding": 3},
 "axisX": {"titlePadding": 15},
 "axisY": {"titlePadding": 14},
 "title": {"fontSize": 21, "fontWeight": "bold", "color": "#000", "font": "Liberation Sans"}
}
}
